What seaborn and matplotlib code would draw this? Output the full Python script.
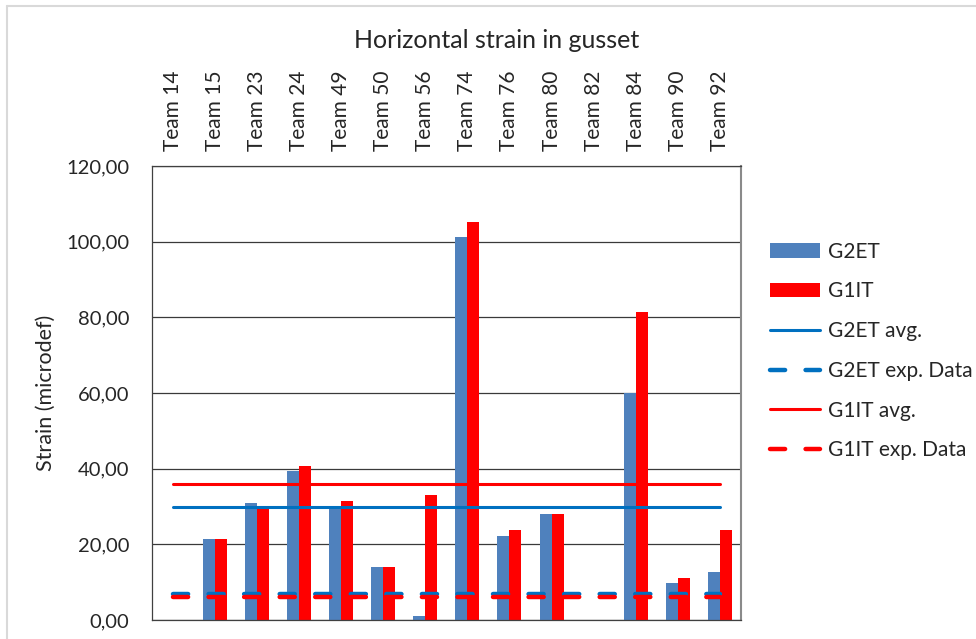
import matplotlib
matplotlib.use("Agg")
import matplotlib.pyplot as plt
import matplotlib.ticker as mticker
from matplotlib.patches import Patch
from matplotlib.lines import Line2D
import numpy as np
import pandas as pd
import seaborn as sns

# Data
teams = ["Team 14", "Team 15", "Team 23", "Team 24", "Team 49", "Team 50", "Team 56",
         "Team 74", "Team 76", "Team 80", "Team 82", "Team 84", "Team 90", "Team 92"]
g2et = [np.nan, 21.4, 30.9, 39.3, 30.2, 14.0, 1.1, 101.2, 22.1, 28.0, np.nan, 59.9, 9.9, 12.6]
g1it = [np.nan, 21.4, 29.8, 40.6, 31.5, 14.0, 33.0, 105.1, 23.7, 28.0, np.nan, 81.3, 11.1, 23.7]
g2et_avg = 30.0
g1it_avg = 36.0
g2et_exp = 7.0
g1it_exp = 6.0

series = ["G2ET", "G1IT"]
df = pd.DataFrame({
    "team": teams * 2,
    "value": g2et + g1it,
    "series": [series[0]] * len(teams) + [series[1]] * len(teams),
})

BAR_BLUE = "#4F81BD"
RED = "#FF0000"
LINE_BLUE = "#0070C0"

sns.set_style("white")
plt.rcParams["font.family"] = ["Lato", "DejaVu Sans"]

fig = plt.figure(figsize=(9.76, 6.39), dpi=100)
ax = fig.add_axes([151.5 / 976, 1 - 620 / 639, (741 - 151.5) / 976, (620 - 166) / 639])

sns.barplot(data=df, x="team", y="value", hue="series", order=teams, hue_order=series,
            palette=[BAR_BLUE, RED], width=0.57, saturation=1, errorbar=None,
            legend=False, ax=ax, zorder=2, linewidth=0, edgecolor="none")

pos = np.arange(len(teams))
ax.plot(pos, [g2et_avg] * len(teams), color=LINE_BLUE, lw=2.2, zorder=3)
ax.plot(pos, [g1it_avg] * len(teams), color=RED, lw=2.2, zorder=3)
dash = (0, (3.4, 4.6))
ax.plot(pos, [g2et_exp] * len(teams), color=LINE_BLUE, lw=3.2, ls=dash,
        dash_capstyle="round", zorder=3)
ax.plot(pos, [g1it_exp] * len(teams), color=RED, lw=3.2, ls=dash,
        dash_capstyle="round", zorder=4)

ax.set_xlim(-0.5, len(teams) - 0.5)
ax.set_ylim(0, 120)
ax.yaxis.set_major_locator(mticker.MultipleLocator(20))
ax.yaxis.set_major_formatter(mticker.FuncFormatter(lambda v, p: f"{v:.2f}".replace(".", ",")))
ax.grid(axis="y", color="#3a3a3a", lw=0.9, zorder=0)
ax.set_axisbelow(True)

ax.xaxis.tick_top()
ax.tick_params(axis="x", rotation=90, length=0, pad=11, labelsize=15)
ax.tick_params(axis="y", length=0, pad=16, labelsize=14.5)
ax.set_xlabel("")
ax.set_ylabel("Strain (microdef)", fontsize=15.5)
ax.yaxis.set_label_coords(-0.162, 0.5)

for side in ["left", "bottom", "top"]:
    ax.spines[side].set_color("#404040")
    ax.spines[side].set_linewidth(0.9)
ax.spines["right"].set_color("#8a8a8a")
ax.spines["right"].set_linewidth(1.5)

fig.text(497 / 976, 1 - 41 / 639, "Horizontal strain in gusset", ha="center", va="center",
         fontsize=18)

handles = [
    Patch(facecolor=BAR_BLUE, edgecolor="none", label="G2ET"),
    Patch(facecolor=RED, edgecolor="none", label="G1IT"),
    Line2D([], [], color=LINE_BLUE, lw=2.2, label="G2ET avg."),
    Line2D([], [], color=LINE_BLUE, lw=3.2, ls=dash, dash_capstyle="round", label="G2ET exp. Data"),
    Line2D([], [], color=RED, lw=2.2, label="G1IT avg."),
    Line2D([], [], color=RED, lw=3.2, ls=dash, dash_capstyle="round", label="G1IT exp. Data"),
]
fig.legend(handles=handles, loc="center left", bbox_to_anchor=(770 / 976, 1 - 351 / 639),
           frameon=False, fontsize=15, handlelength=2.4, handleheight=0.7,
           handletextpad=0.4, labelspacing=0.95, borderpad=0, borderaxespad=0)

# light chart-area border (left and top edges visible)
fig.add_artist(Line2D([7 / 976, 7 / 976], [0, 1 - 6 / 639], transform=fig.transFigure,
                      color="#d9d9d9", lw=1.5))
fig.add_artist(Line2D([7 / 976, 1], [1 - 6 / 639, 1 - 6 / 639], transform=fig.transFigure,
                      color="#d9d9d9", lw=1.5))

fig.savefig("out.png", dpi=100)
